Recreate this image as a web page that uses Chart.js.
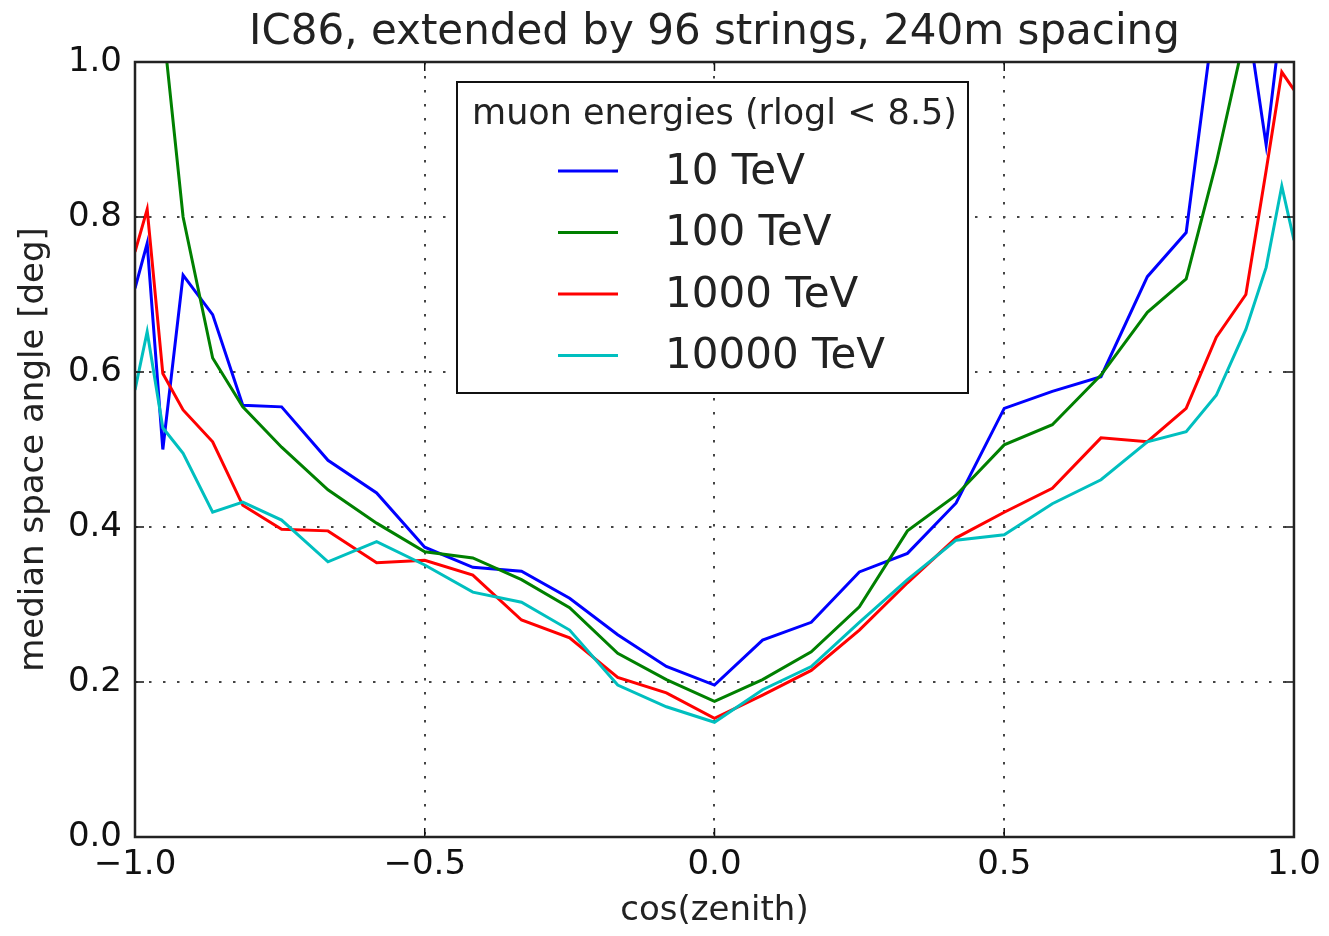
<!DOCTYPE html>
<html>
<head>
<meta charset="utf-8">
<script src="https://cdn.jsdelivr.net/npm/chart.js@4.4.1/dist/chart.umd.min.js"></script>
<style>
  html, body { margin: 0; padding: 0; background: #fff; }
  #wrap { width: 1329px; height: 936px; position: relative; }
</style>
</head>
<body>
<div id="wrap"><canvas id="angleChart"></canvas></div>
<script>
// cos(zenith) bin positions
const cosZenith = [-1.0, -0.979, -0.952, -0.917, -0.866, -0.814, -0.747, -0.667, -0.583, -0.5,
  -0.417, -0.333, -0.25, -0.167, -0.083, 0.0, 0.083, 0.167, 0.25, 0.333, 0.417, 0.5,
  0.583, 0.667, 0.747, 0.814, 0.866, 0.917, 0.952, 0.979, 1.0];

// median space angle [deg] per muon energy
const angle10 = [0.708, 0.766, 0.50, 0.725, 0.674, 0.557, 0.555, 0.486, 0.444, 0.374, 0.348,
  0.343, 0.308, 0.261, 0.22, 0.196, 0.254, 0.277, 0.342, 0.366, 0.431, 0.553, 0.575, 0.594,
  0.723, 0.78, 1.08, 1.07, 0.893, 1.06, 1.05];
const angle100 = [1.4, 1.2, 1.05, 0.80, 0.618, 0.555, 0.503, 0.448, 0.405, 0.368, 0.36,
  0.332, 0.296, 0.237, 0.203, 0.175, 0.203, 0.239, 0.297, 0.395, 0.441, 0.506, 0.532, 0.596,
  0.677, 0.72, 0.87, 1.04, 1.1, 1.15, 1.2];
const angle1000 = [0.755, 0.81, 0.598, 0.551, 0.51, 0.428, 0.397, 0.395, 0.354, 0.357, 0.338,
  0.28, 0.257, 0.206, 0.186, 0.153, 0.183, 0.215, 0.267, 0.328, 0.386, 0.419, 0.45, 0.515,
  0.51, 0.553, 0.645, 0.70, 0.86, 0.987, 0.964];
const angle10000 = [0.577, 0.652, 0.528, 0.495, 0.419, 0.432, 0.409, 0.355, 0.381, 0.351, 0.316,
  0.303, 0.267, 0.196, 0.168, 0.148, 0.19, 0.22, 0.277, 0.332, 0.383, 0.39, 0.43, 0.461,
  0.51, 0.523, 0.57, 0.655, 0.735, 0.84, 0.77];

const seriesLabels = ['10 TeV', '100 TeV', '1000 TeV', '10000 TeV'];
const seriesValues = [angle10, angle100, angle1000, angle10000];
const seriesColors = ['#0000ff', '#008000', '#ff0000', '#00bfbf'];

const legendTitle = 'muon energies (rlogl < 8.5)';
const xTicks = [-1.0, -0.5, 0.0, 0.5, 1.0];
const yTicks = [0.0, 0.2, 0.4, 0.6, 0.8, 1.0];

const FONT = '"DejaVu Sans", sans-serif';

function toPoints(ys) {
  return ys.map((y, i) => ({ x: cosZenith[i], y: y }));
}

// frame + inward ticks like matplotlib
const framePlugin = {
  id: 'frame',
  afterDatasetsDraw(chart) {
    const { ctx, chartArea: a, scales } = chart;
    ctx.save();
    ctx.strokeStyle = '#111';
    ctx.lineWidth = 1.5;
    ctx.beginPath();
    xTicks.forEach(v => {
      const px = scales.x.getPixelForValue(v);
      ctx.moveTo(px, a.bottom); ctx.lineTo(px, a.bottom - 9);
      ctx.moveTo(px, a.top); ctx.lineTo(px, a.top + 9);
    });
    yTicks.forEach(v => {
      const py = scales.y.getPixelForValue(v);
      ctx.moveTo(a.left, py); ctx.lineTo(a.left + 9, py);
      ctx.moveTo(a.right, py); ctx.lineTo(a.right - 9, py);
    });
    ctx.stroke();
    ctx.lineWidth = 2.5;
    ctx.strokeStyle = '#222';
    ctx.strokeRect(a.left, a.top, a.right - a.left, a.bottom - a.top);
    ctx.restore();
  }
};

// legend box inside the axes
const boxLegend = {
  id: 'boxLegend',
  afterDraw(chart) {
    const { ctx, chartArea: a } = chart;
    const x0 = a.left + 322, y0 = a.top + 20, w = 511, h = 311;
    ctx.save();
    ctx.fillStyle = '#fff';
    ctx.fillRect(x0, y0, w, h);
    ctx.strokeStyle = '#111';
    ctx.lineWidth = 2;
    ctx.strokeRect(x0, y0, w, h);
    ctx.fillStyle = '#222';
    ctx.textBaseline = 'middle';
    ctx.textAlign = 'center';
    ctx.font = '35px ' + FONT;
    ctx.fillText(legendTitle, x0 + w / 2 + 2, y0 + 33);
    ctx.textAlign = 'left';
    ctx.font = '42px ' + FONT;
    chart.data.datasets.forEach((ds, i) => {
      const ry = y0 + 89 + i * 61.5;
      ctx.strokeStyle = ds.borderColor;
      ctx.lineWidth = 3;
      ctx.beginPath();
      ctx.moveTo(x0 + 101, ry);
      ctx.lineTo(x0 + 161, ry);
      ctx.stroke();
      ctx.fillStyle = '#222';
      ctx.fillText(ds.label, x0 + 208, ry + 2);
    });
    ctx.restore();
  }
};

const ctx = document.getElementById('angleChart').getContext('2d');
const chart = new Chart(ctx, {
  type: 'line',
  data: {
    datasets: seriesLabels.map((label, i) => ({
      label: label,
      data: toPoints(seriesValues[i]),
      borderColor: seriesColors[i],
      borderWidth: 3,
      pointRadius: 0,
      fill: false,
      tension: 0,
      order: seriesLabels.length - i
    }))
  },
  options: {
    responsive: true,
    maintainAspectRatio: false,
    animation: false,
    layout: { padding: { top: 0, right: 34, bottom: 0, left: 0 } },
    plugins: {
      legend: { display: false },
      tooltip: { enabled: false },
      title: {
        display: true,
        fullSize: false,
        text: 'IC86, extended by 96 strings, 240m spacing',
        color: '#222',
        font: { family: FONT, size: 42, weight: 'normal', lineHeight: 1.2 },
        padding: { top: 7.5, bottom: 4.1 }
      }
    },
    scales: {
      x: {
        type: 'linear',
        min: -1, max: 1,
        afterFit: s => { s.height = 99; },
        afterBuildTicks: s => { s.ticks = xTicks.map(v => ({ value: v })); },
        ticks: {
          color: '#111',
          padding: 8,
          font: { family: FONT, size: 34 },
          callback: v => (v < 0 ? '\u2212' : '') + Math.abs(v).toFixed(1)
        },
        grid: { color: '#444', lineWidth: 2, drawTicks: false },
        border: { display: false, dash: [2.5, 11.5] },
        title: {
          display: true,
          text: 'cos(zenith)',
          color: '#222',
          font: { family: FONT, size: 34 },
          padding: { top: 0, bottom: 4 }
        }
      },
      y: {
        min: 0, max: 1,
        afterFit: s => { s.width = 135; },
        afterBuildTicks: s => { s.ticks = yTicks.map(v => ({ value: v })); },
        ticks: {
          color: '#111',
          padding: 13,
          font: { family: FONT, size: 34 },
          callback: v => v.toFixed(1)
        },
        grid: { color: '#444', lineWidth: 2, drawTicks: false },
        border: { display: false, dash: [2.5, 11.5] },
        title: {
          display: true,
          text: 'median space angle [deg]',
          color: '#222',
          font: { family: FONT, size: 34 },
          padding: { top: 14, bottom: 0 }
        }
      }
    }
  },
  plugins: [framePlugin, boxLegend]
});
</script>
</body>
</html>
